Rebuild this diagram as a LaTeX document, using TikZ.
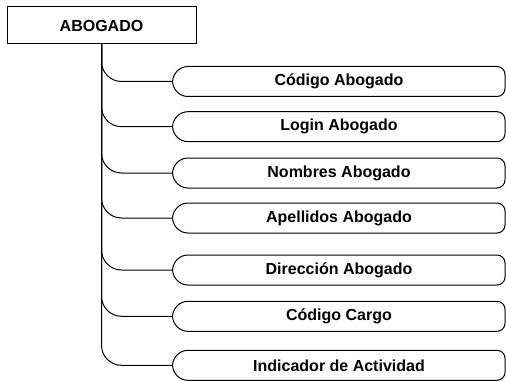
\documentclass[tikz,border=0pt]{standalone}
\usepackage{fontspec}
\setmainfont{Liberation Sans}
\begin{document}
\begin{tikzpicture}[x=0.75pt, y=-0.75pt, line width=0.75pt,
  entidad/.style={draw, fill=white, minimum width=141.75pt, minimum height=27.75pt, inner sep=0pt,
    font=\fontsize{12}{14}\selectfont\bfseries},
  campo/.style={minimum width=249pt, minimum height=22.5pt, inner sep=0pt,
    font=\fontsize{12}{14}\selectfont\bfseries}]
  \useasboundingbox (0,0) rectangle (506,381);
  \node[entidad] (abogado) at (101.5,25.5) {ABOGADO};
  \foreach \y/\txt [count=\k] in {81.5/Código Abogado, 126.7/Login Abogado, 173/Nombres Abogado,
      218/Apellidos Abogado, 270/Dirección Abogado, 316.3/Código Cargo, 365.3/Indicador de Actividad} {
    \node[campo] (c\k) at (339,\y) {\txt};
    \draw (188,\y-15) .. controls (179.7,\y-15) and (173,\y-8.3) .. (c\k.west)
      .. controls (173,\y+8.3) and (179.7,\y+15) .. (188,\y+15) -- (497,\y+15)
      .. controls (501.4,\y+15) and (505,\y+11.4) .. (505,\y+7) -- (505,\y-7)
      .. controls (505,\y-11.4) and (501.4,\y-15) .. (497,\y-15) -- cycle;
    \draw (abogado.south) -- (101.5,\y-20) .. controls (101.5,\y-9) and (110.5,\y) .. (121.5,\y)
      -- (c\k.west);
  }
\end{tikzpicture}
\end{document}
